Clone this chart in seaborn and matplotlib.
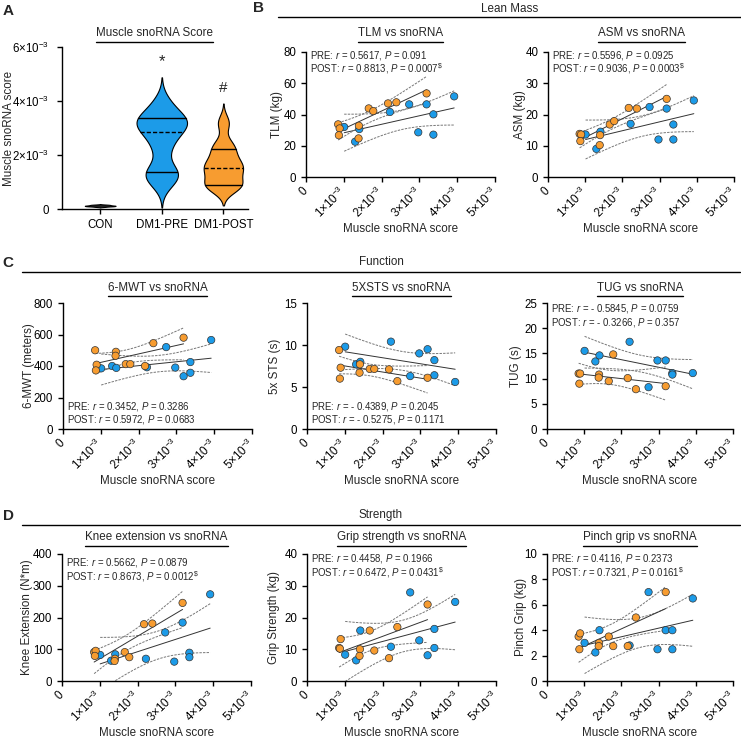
import numpy as np
import pandas as pd
import seaborn as sns
import matplotlib.pyplot as plt
from matplotlib.lines import Line2D

# muscle snoRNA score (units of 1e-3), same patients across panels
con_score = [0.08, 0.10, 0.11, 0.12, 0.13, 0.14, 0.15, 0.12, 0.10, 0.16]
pre_score = [1.01, 1.30, 1.41, 2.22, 2.73, 3.19, 3.37, 3.92, 2.97, 3.37]
post_score = [0.85, 0.89, 0.87, 1.40, 1.39, 1.66, 1.78, 2.17, 2.39, 3.19]
groups = ["CON", "DM1-PRE", "DM1-POST"]

tlm_pre = [32.0, 22.6, 30.7, 41.6, 46.5, 46.5, 40.1, 51.6, 28.6, 27.1]
tlm_post = [33.7, 31.1, 26.7, 32.8, 24.7, 43.9, 42.2, 47.1, 47.8, 53.5]
asm_pre = [13.6, 9.0, 14.5, 17.0, 22.4, 21.9, 16.8, 24.5, 12.0, 12.0]
asm_post = [13.8, 13.6, 11.5, 13.4, 10.2, 16.8, 17.9, 22.1, 21.9, 25.0]
mwt_pre = [385, 400, 388, 392, 520, 335, 425, 565, 390, 357]
mwt_post = [500, 408, 372, 490, 465, 412, 412, 400, 545, 580]
sts_pre = [9.8, 7.7, 8.0, 10.4, 6.3, 9.5, 8.2, 5.6, 9.0, 6.4]
sts_post = [9.4, 7.3, 6.0, 7.7, 6.7, 7.15, 7.15, 7.1, 5.7, 6.1]
tug_pre = [15.5, 13.4, 14.6, 17.3, 8.3, 13.6, 11.1, 11.1, 13.6, 10.8]
tug_post = [11.0, 11.0, 9.0, 10.8, 10.2, 9.5, 14.8, 10.1, 7.9, 8.5]
knee_pre = [82, 64, 84, 70, 153, 184, 89, 273, 61, 75]
knee_post = [91, 95, 79, 70, 63, 91, 75, 179, 181, 246]
grip_pre = [8.3, 6.5, 15.9, 10.8, 27.9, 8.1, 16.4, 24.9, 12.8, 10.4]
grip_post = [10.4, 13.2, 10.2, 10.0, 7.9, 15.9, 9.6, 7.2, 17.0, 24.1]
pinch_pre = [3.0, 2.25, 4.0, 2.8, 7.0, 4.0, 4.0, 6.5, 2.5, 2.5]
pinch_post = [3.5, 3.75, 2.5, 3.0, 2.75, 3.5, 2.75, 2.75, 5.0, 7.0]

stats = {
    "TLM": (("0.5617", "0.091", False), ("0.8813", "0.0007", True)),
    "ASM": (("0.5596", "0.0925", False), ("0.9036", "0.0003", True)),
    "6MWT": (("0.3452", "0.3286", False), ("0.5972", "0.0683", False)),
    "STS": (("- 0.4389", "0.2045", False), ("- 0.5275", "0.1171", False)),
    "TUG": (("- 0.5845", "0.0759", False), ("- 0.3266", "0.357", False)),
    "KNEE": (("0.5662", "0.0879", False), ("0.8673", "0.0012", True)),
    "GRIP": (("0.4458", "0.1966", False), ("0.6472", "0.0431", True)),
    "PINCH": (("0.4116", "0.2373", False), ("0.7321", "0.0161", True)),
}

BLUE = "#1C9BE8"
ORANGE = "#F79C30"
T_CRIT = 2.306  # t(0.975, df=8)
TICK_FS = 8.3
LAB_FS = 8.4

sns.set_theme(style="ticks")
plt.rcParams["font.family"] = ["Liberation Sans", "DejaVu Sans"]
plt.rcParams["mathtext.fontset"] = "custom"
plt.rcParams["mathtext.rm"] = "Liberation Sans"
plt.rcParams["mathtext.it"] = "Liberation Sans:italic"
plt.rcParams["mathtext.bf"] = "Liberation Sans:bold"
plt.rcParams["axes.linewidth"] = 1.0
plt.rcParams["xtick.major.width"] = 1.0
plt.rcParams["ytick.major.width"] = 1.0
plt.rcParams["xtick.major.size"] = 3.5
plt.rcParams["ytick.major.size"] = 3.5
plt.rcParams["xtick.color"] = "black"
plt.rcParams["ytick.color"] = "black"
plt.rcParams["axes.edgecolor"] = "black"

W, H = 741, 742
fig = plt.figure(figsize=(W / 100, H / 100), dpi=100)


def add_ax(l, t, w, h):
    return fig.add_axes([l / W, 1 - (t + h) / H, w / W, h / H])


def place_ylabel(ax, dx_px):
    # dx_px: centre of the label relative to the y axis, in pixels
    w_px = ax.get_position().width * W
    ax.yaxis.set_label_coords((dx_px + 5) / w_px, 0.5)


def sci(v):
    return "0" if v == 0 else f"{v}×10$^{{-3}}$"


underlines = []


def title(ax, text, y_px):
    t = fig.text(ax.get_position().x0 + ax.get_position().width / 2, 1 - y_px / H, text,
                 ha="center", va="center", fontsize=LAB_FS)
    underlines.append(t)


def header(text, x_px, y_px, x0, x1, ly):
    fig.text(x_px / W, 1 - y_px / H, text, ha="center", va="center", fontsize=LAB_FS)
    fig.add_artist(Line2D([x0 / W, x1 / W], [1 - ly / H, 1 - ly / H], color="black", lw=1.0))


# ---- A: violin
axA = add_ax(62, 47, 186, 162)
dfa = pd.DataFrame({"group": ["CON"] * 10 + ["DM1-PRE"] * 10 + ["DM1-POST"] * 10,
                    "score": con_score + pre_score + post_score})
widths = {"CON": 0.5, "DM1-PRE": 0.82, "DM1-POST": 0.64}
fills = {"CON": "#222222", "DM1-PRE": BLUE, "DM1-POST": ORANGE}
for g in groups:
    sub = dfa[dfa.group == g]
    sns.violinplot(data=sub, x="group", y="score", order=groups, width=widths[g],
                   color=fills[g], saturation=1, inner=None, cut=2.5, bw_adjust=0.6,
                   linewidth=0.8, linecolor="black", ax=axA)
    if g == "CON":
        continue
    pos = groups.index(g)
    verts = axA.collections[-1].get_paths()[0].vertices
    right = verts[verts[:, 0] >= pos]
    right = right[np.argsort(right[:, 1])]
    qs = np.percentile(sub.score, [25, 50, 75], method="weibull")
    for q, ls in zip(qs, ["-", (0, (3, 1.5)), "-"]):
        half = np.interp(q, right[:, 1], right[:, 0]) - pos
        axA.plot([pos - half, pos + half], [q, q], color="black", lw=1.0, ls=ls)

axA.set_xlim(-0.62, 2.4)
axA.set_ylim(0, 6)
axA.set_yticks([0, 2, 4, 6], [sci(v) for v in [0, 2, 4, 6]], fontsize=TICK_FS)
axA.tick_params(axis="y", pad=6)
axA.tick_params(axis="x", labelsize=TICK_FS)
axA.set_xlabel("")
axA.set_ylabel("Muscle snoRNA score", fontsize=LAB_FS)
place_ylabel(axA, -52)
sns.despine(ax=axA)
axA.text(1, 5.45, "*", ha="center", va="center", fontsize=12)
axA.text(2, 4.5, "#", ha="center", va="center", fontsize=11)
title(axA, "Muscle snoRNA Score", 33)


# ---- scatter panels
def scatter_panel(ax, ypre, ypost, ymax, ystep, ylabel, name, ttl, title_y, text_y, ylab_dx):
    df = pd.DataFrame({"score": pre_score + post_score, "value": ypre + ypost,
                       "visit": ["PRE"] * 10 + ["POST"] * 10})
    for visit in ["PRE", "POST"]:
        sub = df[df.visit == visit]
        sns.regplot(data=sub, x="score", y="value", ci=None, scatter=False, ax=ax,
                    line_kws=dict(color="#333333", lw=0.7))
        x = sub.score.to_numpy()
        y = sub.value.to_numpy()
        b, a = np.polyfit(x, y, 1)
        xs = np.linspace(x.min(), x.max(), 100)
        res = y - (a + b * x)
        s = np.sqrt(res @ res / (len(x) - 2))
        se = s * np.sqrt(1 / len(x) + (xs - x.mean()) ** 2 / ((x - x.mean()) ** 2).sum())
        for sign in (-1, 1):
            ax.plot(xs, a + b * xs + sign * T_CRIT * se, color="#777777", lw=0.7,
                    ls=(0, (2.5, 1.2)))
    sns.scatterplot(data=df, x="score", y="value", hue="visit",
                    palette={"PRE": BLUE, "POST": ORANGE}, s=28, edgecolor="#333333",
                    linewidth=0.5, legend=False, ax=ax, zorder=3)
    ax.set_xlim(0, 5)
    ax.set_ylim(0, ymax)
    ax.set_xticks(range(6), [sci(v) for v in range(6)], rotation=45, ha="right",
                  va="center", rotation_mode="anchor", fontsize=TICK_FS)
    ax.tick_params(axis="x", pad=5)
    ax.set_yticks(np.arange(0, ymax + ystep / 2, ystep))
    ax.tick_params(axis="y", labelsize=TICK_FS)
    ax.set_xlabel("Muscle snoRNA score", fontsize=LAB_FS, labelpad=2)
    ax.set_ylabel(ylabel, fontsize=LAB_FS)
    place_ylabel(ax, ylab_dx)
    sns.despine(ax=ax)
    (rp, pp, dp), (ro, po, do) = stats[name]
    l1 = f"PRE: $r$ = {rp}, $P$ = {pp}" + ("$^{\\$}$" if dp else "")
    l2 = f"POST: $r$ = {ro}, $P$ = {po}" + ("$^{\\$}$" if do else "")
    ax.text(0.02, text_y[0], l1, transform=ax.transAxes, fontsize=6.9, va="center")
    ax.text(0.02, text_y[1], l2, transform=ax.transAxes, fontsize=6.9, va="center")
    title(ax, ttl, title_y)


top = (0.975, 0.865)
bot = (0.18, 0.075)
ax = add_ax(306, 52, 189, 125)
scatter_panel(ax, tlm_pre, tlm_post, 80, 20, "TLM (kg)", "TLM", "TLM vs snoRNA", 33, top, -28)
ax = add_ax(548, 52, 186, 125)
scatter_panel(ax, asm_pre, asm_post, 40, 10, "ASM (kg)", "ASM", "ASM vs snoRNA", 33, top, -27)
ax = add_ax(63, 303, 189, 126)
scatter_panel(ax, mwt_pre, mwt_post, 800, 200, "6-MWT (meters)", "6MWT",
              "6-MWT vs snoRNA", 288, bot, -33)
ax = add_ax(307, 303, 189, 126)
scatter_panel(ax, sts_pre, sts_post, 15, 5, "5x STS (s)", "STS",
              "5XSTS vs snoRNA", 288, bot, -31)
ax = add_ax(547, 303, 186, 126)
scatter_panel(ax, tug_pre, tug_post, 25, 5, "TUG (s)", "TUG",
              "TUG vs snoRNA", 288, (0.955, 0.845), -30)
ax = add_ax(62, 554, 189, 127)
scatter_panel(ax, knee_pre, knee_post, 400, 100, "Knee Extension (N*m)", "KNEE",
              "Knee extension vs snoRNA", 537, (0.93, 0.82), -34)
ax = add_ax(307, 554, 189, 127)
scatter_panel(ax, grip_pre, grip_post, 40, 10, "Grip Strength (kg)", "GRIP",
              "Grip strength vs snoRNA", 537, (0.965, 0.855), -32)
ax = add_ax(547, 554, 186, 127)
scatter_panel(ax, pinch_pre, pinch_post, 10, 2, "Pinch Grip (kg)", "PINCH",
              "Pinch grip vs snoRNA", 537, (0.965, 0.855), -25)

# section headers
header("Lean Mass", 510, 9, 278, 741, 17)
header("Function", 381, 262, 22, 740, 272)
header("Strength", 381, 515, 22, 740, 525)

for lab, x, y in [("A", 8, 11), ("B", 258, 8), ("C", 8, 263), ("D", 8, 516)]:
    fig.text(x / W, 1 - y / H, lab, fontsize=11, fontweight="bold", ha="center", va="center")

# underline the panel titles
fig.canvas.draw()
r = fig.canvas.get_renderer()
for t in underlines:
    bb = t.get_window_extent(r).transformed(fig.transFigure.inverted())
    yl = bb.y0 - 2.5 / H
    fig.add_artist(Line2D([bb.x0, bb.x1], [yl, yl], color="black", lw=1.0))

fig.savefig("out.png", dpi=100)
